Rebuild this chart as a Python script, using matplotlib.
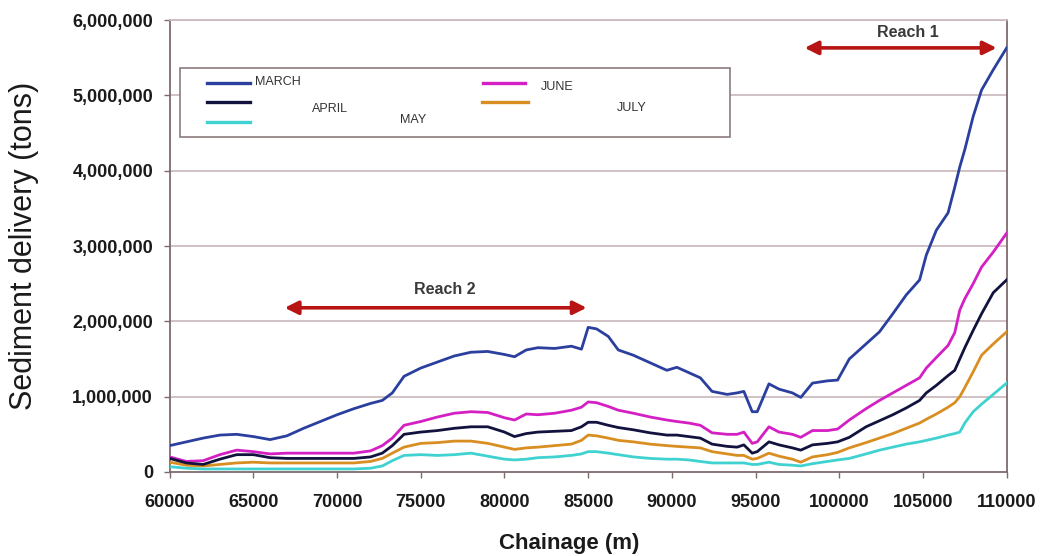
import matplotlib
matplotlib.use("Agg")
import matplotlib.pyplot as plt
from matplotlib.patches import Rectangle
from matplotlib.lines import Line2D
from matplotlib.ticker import FuncFormatter

plt.rcParams['font.family'] = ['Liberation Sans', 'DejaVu Sans']

# ---------------- data (values in million tons) ----------------
chainage = [60000, 61000, 62000, 63000, 64000, 65000, 66000, 67000, 68000, 69000,
            70000, 71000, 72000, 72700, 73300, 74000, 75000, 76000, 77000, 78000,
            79000, 80000, 80600, 81300, 82000, 83000, 84000, 84600, 85000, 85500,
            86200, 86800, 87700, 88700, 89700, 90300, 91000, 91700, 92400, 93300,
            93900, 94300, 94800, 95100, 95800, 96400, 97200, 97700, 98400, 99300,
            99900, 100600, 101600, 102400, 103200, 104000, 104800, 105200, 105800, 106500,
            106900, 107200, 107500, 108000, 108500, 109200, 110000]

march = [0.35, 0.40, 0.45, 0.49, 0.50, 0.47, 0.43, 0.48, 0.58, 0.67,
         0.76, 0.84, 0.91, 0.95, 1.05, 1.27, 1.38, 1.46, 1.54, 1.59,
         1.60, 1.56, 1.53, 1.62, 1.65, 1.64, 1.67, 1.63, 1.92, 1.90,
         1.80, 1.62, 1.55, 1.45, 1.35, 1.39, 1.32, 1.25, 1.07, 1.03,
         1.05, 1.07, 0.80, 0.80, 1.17, 1.10, 1.05, 0.99, 1.18, 1.21,
         1.22, 1.50, 1.70, 1.86, 2.10, 2.35, 2.55, 2.88, 3.21, 3.44,
         3.78, 4.05, 4.28, 4.72, 5.07, 5.34, 5.63]

april = [0.18, 0.12, 0.10, 0.17, 0.23, 0.23, 0.19, 0.18, 0.18, 0.18,
         0.18, 0.18, 0.20, 0.25, 0.35, 0.50, 0.53, 0.55, 0.58, 0.60,
         0.60, 0.53, 0.47, 0.51, 0.53, 0.54, 0.55, 0.60, 0.66, 0.66,
         0.62, 0.59, 0.56, 0.52, 0.49, 0.49, 0.47, 0.45, 0.37, 0.34,
         0.33, 0.36, 0.25, 0.27, 0.40, 0.36, 0.32, 0.29, 0.36, 0.38,
         0.40, 0.46, 0.60, 0.68, 0.76, 0.85, 0.95, 1.05, 1.15, 1.28,
         1.35, 1.50, 1.65, 1.88, 2.10, 2.38, 2.55]

may = [0.07, 0.05, 0.04, 0.04, 0.04, 0.04, 0.04, 0.04, 0.04, 0.04,
       0.04, 0.04, 0.05, 0.08, 0.15, 0.22, 0.23, 0.22, 0.23, 0.25,
       0.21, 0.17, 0.16, 0.17, 0.19, 0.20, 0.22, 0.24, 0.27, 0.27,
       0.25, 0.23, 0.20, 0.18, 0.17, 0.17, 0.16, 0.14, 0.12, 0.12,
       0.12, 0.12, 0.10, 0.10, 0.13, 0.10, 0.09, 0.08, 0.11, 0.14,
       0.16, 0.18, 0.24, 0.29, 0.33, 0.37, 0.40, 0.42, 0.45, 0.49,
       0.51, 0.53, 0.65, 0.80, 0.90, 1.03, 1.18]

june = [0.20, 0.14, 0.15, 0.23, 0.29, 0.27, 0.24, 0.25, 0.25, 0.25,
        0.25, 0.25, 0.28, 0.35, 0.45, 0.62, 0.67, 0.73, 0.78, 0.80,
        0.79, 0.72, 0.69, 0.77, 0.76, 0.78, 0.82, 0.86, 0.93, 0.92,
        0.87, 0.82, 0.78, 0.73, 0.69, 0.67, 0.65, 0.62, 0.52, 0.50,
        0.50, 0.53, 0.38, 0.40, 0.60, 0.53, 0.50, 0.46, 0.55, 0.55,
        0.57, 0.69, 0.84, 0.95, 1.05, 1.15, 1.25, 1.38, 1.52, 1.68,
        1.85, 2.15, 2.30, 2.50, 2.72, 2.92, 3.17]

july = [0.13, 0.09, 0.08, 0.10, 0.12, 0.13, 0.12, 0.12, 0.12, 0.12,
        0.12, 0.12, 0.14, 0.18, 0.25, 0.33, 0.38, 0.39, 0.41, 0.41,
        0.38, 0.33, 0.30, 0.32, 0.33, 0.35, 0.37, 0.42, 0.49, 0.48,
        0.45, 0.42, 0.40, 0.37, 0.35, 0.34, 0.33, 0.32, 0.27, 0.24,
        0.22, 0.22, 0.17, 0.18, 0.25, 0.21, 0.17, 0.13, 0.20, 0.23,
        0.26, 0.32, 0.39, 0.45, 0.51, 0.58, 0.65, 0.70, 0.77, 0.86,
        0.92, 1.00, 1.12, 1.33, 1.55, 1.70, 1.86]

series_names = ["MARCH", "APRIL", "MAY", "JUNE", "JULY"]
series_colors = {"MARCH": "#2b3f9e", "APRIL": "#12123e", "MAY": "#3fd2d0",
                 "JUNE": "#d41fc4", "JULY": "#d98e22"}
series_values = {"MARCH": march, "APRIL": april, "MAY": may, "JUNE": june, "JULY": july}

x_ticks = [60000, 65000, 70000, 75000, 80000, 85000, 90000, 95000, 100000, 105000, 110000]
y_ticks = [0, 1000000, 2000000, 3000000, 4000000, 5000000, 6000000]

reach_labels = ["Reach 2", "Reach 1"]
reach_start = [66870, 97930]
reach_end = [84910, 109400]
reach_level = [2180000, 5630000]
reach_text_x = [76430, 104100]
reach_text_y = [2420000, 5830000]

# ---------------- figure ----------------
fig = plt.figure(figsize=(10.41, 5.56), dpi=100)
ax = fig.add_axes([0.163, 0.1511, 0.804, 0.8129])

grid_c = "#cbbcbf"
spine_c = "#7f6a6c"

for yv in y_ticks[1:]:
    ax.axhline(yv, color=grid_c, lw=1.3, zorder=0)

draw_order = ["JULY", "MAY", "JUNE", "APRIL", "MARCH"]
for name in draw_order:
    ax.plot(chainage, [v * 1e6 for v in series_values[name]],
            color=series_colors[name], lw=2.0, zorder=3,
            solid_joinstyle="round")

ax.set_xlim(60000, 110000)
ax.set_ylim(0, 6000000)
ax.set_xticks(x_ticks)
ax.set_yticks(y_ticks)
ax.yaxis.set_major_formatter(FuncFormatter(lambda v, p: f"{int(v):,}"))
ax.xaxis.set_major_formatter(FuncFormatter(lambda v, p: f"{int(v)}"))

for s in ["left", "right", "bottom"]:
    ax.spines[s].set_color(spine_c)
    ax.spines[s].set_linewidth(1.3)
ax.spines["top"].set_color(grid_c)
ax.spines["top"].set_linewidth(1.3)

ax.tick_params(axis="both", colors=spine_c, length=4, width=1)
ax.tick_params(axis="y", labelsize=13, labelcolor="#1a1a1a", pad=8)
ax.tick_params(axis="x", labelsize=13, labelcolor="#1a1a1a", pad=12)
for lab in ax.get_xticklabels() + ax.get_yticklabels():
    lab.set_fontweight("bold")

ax.set_xlabel("Chainage (m)", fontsize=16, fontweight="bold", color="#1a1a1a", labelpad=13)
ax.xaxis.set_label_coords(0.477, -0.135)
ax.set_ylabel("Sediment delivery (tons)", fontsize=22, color="#1a1a1a", labelpad=24)

# ---------------- reach arrows ----------------
for lab, x0, x1, yv, tx, ty in zip(reach_labels, reach_start, reach_end, reach_level,
                                   reach_text_x, reach_text_y):
    ax.annotate("", xy=(x1, yv), xytext=(x0, yv),
                arrowprops=dict(arrowstyle="<|-|>", color="#b81414", lw=2.6,
                                mutation_scale=20, shrinkA=0, shrinkB=0),
                zorder=5)
    ax.text(tx, ty, lab, ha="center", va="center", fontsize=11.5,
            fontweight="bold", color="#3a3a3a", zorder=5)

# ---------------- legend (custom layout) ----------------
ax.add_patch(Rectangle((0.012, 0.741), 0.658, 0.153, transform=ax.transAxes,
                       facecolor="white", edgecolor="#8c7a7c", lw=1.2, zorder=4))
legend_items = [
    ("MARCH", 0.044, 0.096, 0.861, 0.102, 0.863),
    ("APRIL", 0.044, 0.096, 0.819, 0.170, 0.803),
    ("MAY",   0.044, 0.096, 0.774, 0.275, 0.779),
    ("JUNE",  0.374, 0.424, 0.861, 0.444, 0.852),
    ("JULY",  0.373, 0.428, 0.819, 0.534, 0.805),
]
for name, lx0, lx1, ly, tx, ty in legend_items:
    ax.add_line(Line2D([lx0, lx1], [ly, ly], transform=ax.transAxes,
                       color=series_colors[name], lw=2.4, zorder=5))
    ax.text(tx, ty, name, transform=ax.transAxes, fontsize=9, color="#333333",
            ha="left", va="center", zorder=5)

fig.savefig("out.png", dpi=100)
